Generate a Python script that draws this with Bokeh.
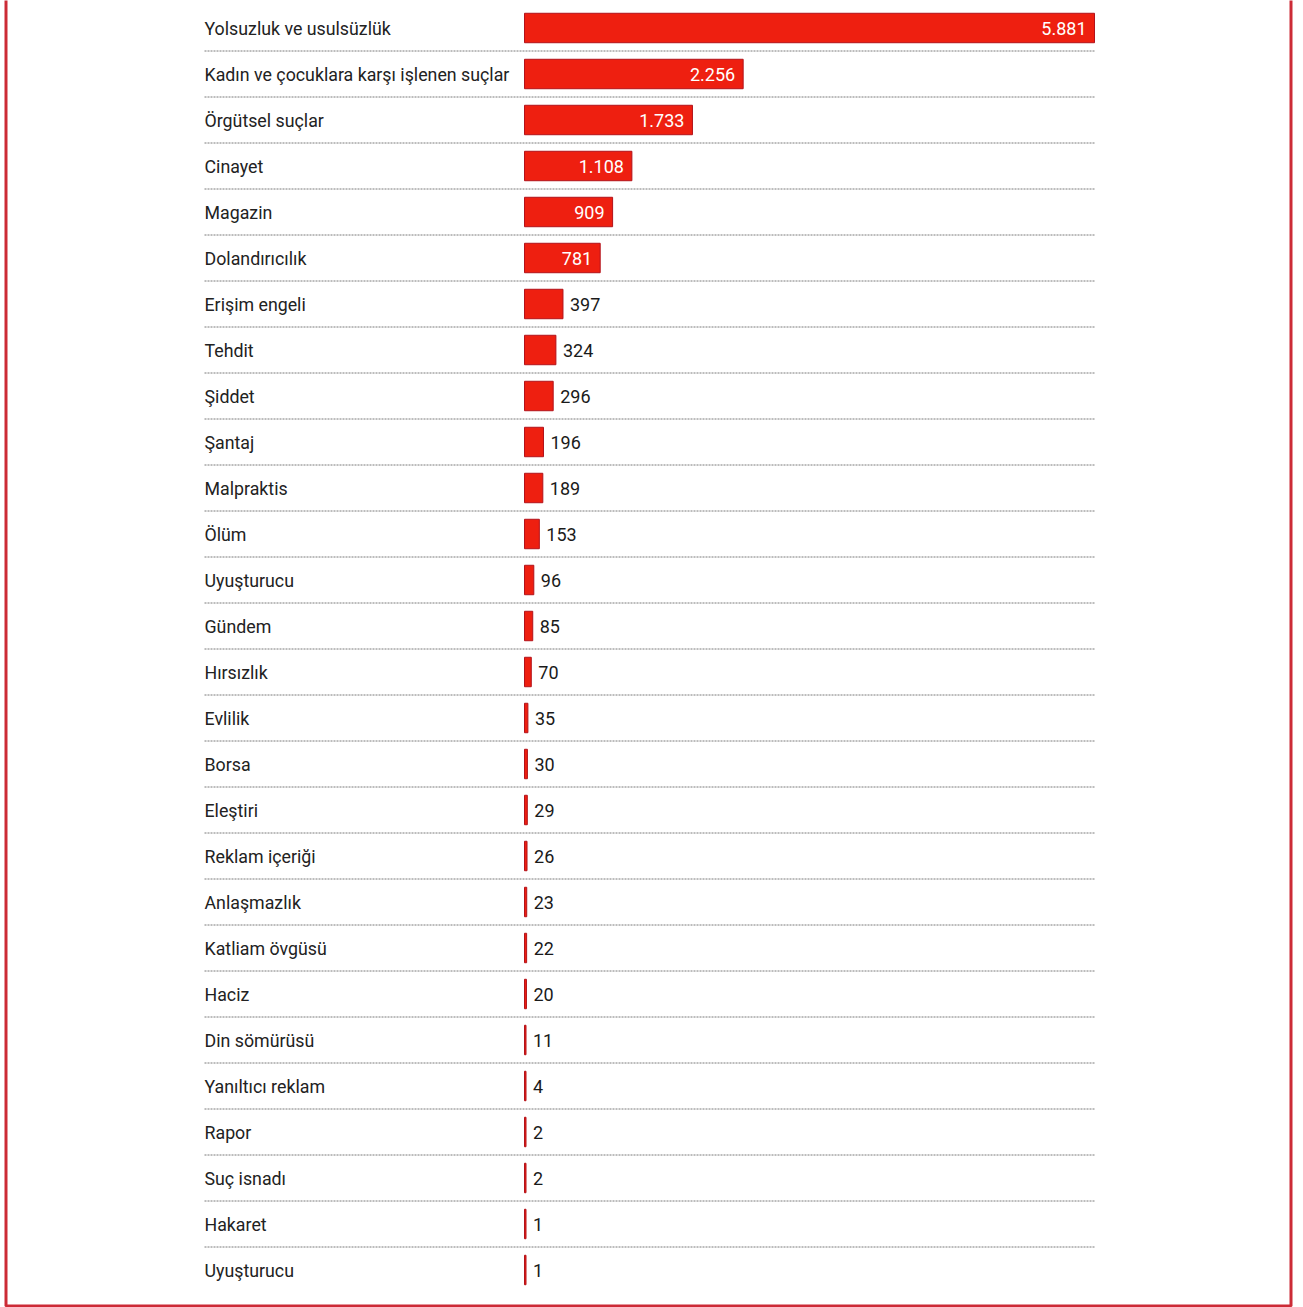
import numpy as np
from bokeh.plotting import figure
from bokeh.models import Range1d, BoxAnnotation, ColumnDataSource
from bokeh.core.properties import value
from bokeh.embed import file_html
from bokeh.resources import INLINE

categories = ["Yolsuzluk ve usulsüzlük", "Kadın ve çocuklara karşı işlenen suçlar",
              "Örgütsel suçlar", "Cinayet", "Magazin", "Dolandırıcılık", "Erişim engeli",
              "Tehdit", "Şiddet", "Şantaj", "Malpraktis", "Ölüm", "Uyuşturucu", "Gündem",
              "Hırsızlık", "Evlilik", "Borsa", "Eleştiri", "Reklam içeriği", "Anlaşmazlık",
              "Katliam övgüsü", "Haciz", "Din sömürüsü", "Yanıltıcı reklam", "Rapor",
              "Suç isnadı", "Hakaret", "Uyuşturucu"]
counts = [5881, 2256, 1733, 1108, 909, 781, 397, 324, 296, 196, 189, 153, 96, 85,
          70, 35, 30, 29, 26, 23, 22, 20, 11, 4, 2, 2, 1, 1]

# ---- layout constants (pixels) ----
W, H = 1300, 1307
BAR_X0 = 524               # pixel where value 0 sits
BAR_X1 = 1094              # pixel where max value sits
LABEL_X = 204
ROW_H = 46
ROW0_Y = 27.5              # center of first row from top

vmax = max(counts)
k = vmax / (BAR_X1 - BAR_X0)   # data units per pixel
x_start = -BAR_X0 * k
x_end = (W - BAR_X0) * k
y_top = -ROW0_Y / ROW_H
y_bot = (H - ROW0_Y) / ROW_H

p = figure(width=W, height=H, output_backend="svg", toolbar_location=None,
           x_range=Range1d(x_start, x_end), y_range=Range1d(y_bot, y_top),
           min_border=0, outline_line_color=None)
p.axis.visible = False
p.grid.visible = False

n = len(categories)
ys = np.arange(n)
vals = np.array(counts, dtype=float)
bar_right = np.maximum(vals, 1.5 * k)

# separators
sep_y = ys[:-1] + 0.5
p.segment(x0=[-(BAR_X0 - LABEL_X) * k] * len(sep_y), x1=[vmax] * len(sep_y),
          y0=sep_y, y1=sep_y, line_color="#7a7a7a", line_width=1, line_dash="2 1")

# bars
p.hbar(y=ys, left=0, right=bar_right, height=0.64, fill_color="#ee1f10",
       line_color="#b3121a", line_width=1)

# category labels
p.text(x=[0] * n, y=ys, text=categories, x_offset=-(BAR_X0 - LABEL_X),
       text_align="left", text_baseline="middle", text_font=value("Roboto"),
       text_font_size="17.8px", text_color="#222222")

# value labels
fmt = [f"{c:,}".replace(",", ".") for c in counts]
inside = vals >= 500
src_in = ColumnDataSource(dict(x=vals[inside], y=ys[inside],
                               t=[f for f, i in zip(fmt, inside) if i]))
src_out = ColumnDataSource(dict(x=bar_right[~inside], y=ys[~inside],
                                t=[f for f, i in zip(fmt, inside) if not i]))
p.text(x="x", y="y", text="t", source=src_in, x_offset=-8, text_align="right",
       text_baseline="middle", text_font=value("Roboto"), text_font_size="18px",
       text_color="#ffffff")
p.text(x="x", y="y", text="t", source=src_out, x_offset=7, text_align="left",
       text_baseline="middle", text_font=value("Roboto"), text_font_size="18px",
       text_color="#1a1a1a")

# red page frame (open at top)
frame = BoxAnnotation(left=5.5 * k + x_start, right=1290.5 * k + x_start,
                      bottom=(1305.5 - ROW0_Y) / ROW_H, top=y_top - 5,
                      fill_alpha=0, line_color="#cc2b36", line_alpha=1.0, line_width=3)
p.add_layout(frame)

open("out.html", "w").write(file_html(p, INLINE))
